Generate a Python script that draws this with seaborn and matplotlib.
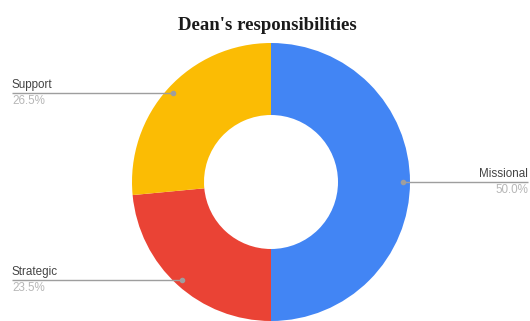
import numpy as np
import matplotlib
matplotlib.use("Agg")
import matplotlib.pyplot as plt
import seaborn as sns

categories = ["Missional", "Strategic", "Support"]
shares = [50.0, 23.5, 26.5]
colors = ["#4285F4", "#EA4335", "#FBBC04"]

sns.set_theme(style="white")
plt.rcParams['font.family'] = ['Liberation Sans', 'DejaVu Sans']

fig = plt.figure(figsize=(5.30, 3.21), dpi=100)
ax = fig.add_axes([0, 0, 1, 1])

cx, cy, r_out, r_in = 271, 139, 139, 67
ax.pie(shares, colors=colors, startangle=90, counterclock=False,
       center=(cx, cy), radius=r_out,
       wedgeprops=dict(width=r_out - r_in, linewidth=0))
ax.set_xlim(0, 530)
ax.set_ylim(0, 321)
ax.axis('off')

# leader lines and labels
start = 0.0
for cat, val in zip(categories, shares):
    mid = (start + val / 2) / 100 * 360
    start += val
    ang = np.deg2rad(90 - mid)
    px = cx + 132 * np.cos(ang)
    py = cy + 132 * np.sin(ang)
    if px > cx:
        x_end, ha = 528, 'right'
    else:
        x_end, ha = 12, 'left'
    ax.plot([px, x_end], [py, py], color="#9e9e9e", lw=1, solid_capstyle='butt')
    ax.plot([px], [py], 'o', color="#9e9e9e", ms=3)
    ax.text(x_end, py + 2, cat, ha=ha, va='bottom', fontsize=8.4, color="#444444")
    ax.text(x_end, py - 2, f"{val:.1f}%", ha=ha, va='top', fontsize=8.4, color="#b7b7b7")

fig.text(0.504, 0.922, "Dean's responsibilities", ha='center', va='center',
         fontsize=13.5, fontweight='bold', family=['Liberation Serif', 'DejaVu Serif'],
         color="#1a1a1a")

fig.savefig("out.png", dpi=100)
